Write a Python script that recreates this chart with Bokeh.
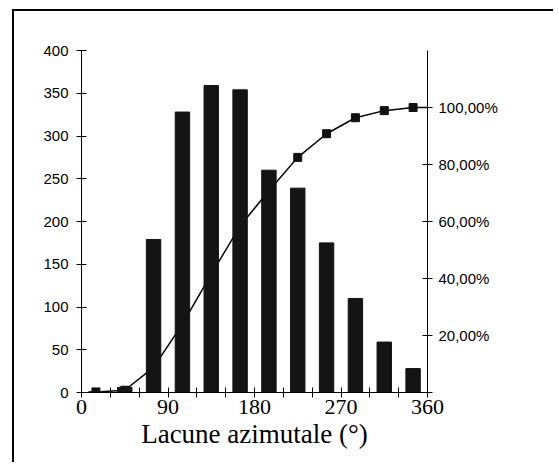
from bokeh.plotting import figure
from bokeh.models import Range1d, LinearAxis, FixedTicker, Div, Spacer
from bokeh.layouts import column, row
from bokeh.embed import file_html
from bokeh.resources import INLINE

# ---- data ----
bin_centers = [15, 45, 75, 105, 135, 165, 195, 225, 255, 285, 315, 345]
counts = [1, 6, 179, 328, 359, 354, 260, 239, 175, 110, 59, 28]

cum_x = [15, 45, 75, 105, 135, 165, 195, 225, 255, 285, 315, 345, 375]
cum_pct = [0.002, 0.008, 0.088, 0.240, 0.415, 0.584, 0.708, 0.825, 0.908, 0.964, 0.989, 1.0, 1.0]

x_major = [0, 90, 180, 270, 360]
x_minor = [30, 60, 120, 150, 210, 240, 300, 330]
y_left_ticks = [0, 50, 100, 150, 200, 250, 300, 350, 400]
pct_ticks = [0.2, 0.4, 0.6, 0.8, 1]
pct_labels = ["20,00%", "40,00%", "60,00%", "80,00%", "100,00%"]
x_title = "Lacune azimutale (°)"

# layout offsets of the outer chart frame (left/top edges drawn as thin Divs)
FX, FY, LW = 12, 9, 2
OFF_X, OFF_Y = FX + LW, FY + LW
W = 559 - OFF_X - 6
H = 468 - OFF_Y - 6
p = figure(width=W, height=H, output_backend="svg", toolbar_location=None,
           x_range=Range1d(0, 360), y_range=Range1d(0, 400),
           min_border_left=81 - OFF_X, min_border_right=(OFF_X + W) - 427,
           min_border_top=50 - OFF_Y, min_border_bottom=(OFF_Y + H) - 392,
           background_fill_color="white", border_fill_color="white", margin=0)
p.outline_line_color = None
p.grid.visible = False
p.extra_y_ranges = {"pct": Range1d(0, 1.2)}

# cumulative line (drawn first, behind the bars)
p.line(cum_x, cum_pct, y_range_name="pct", line_color="black", line_width=1.5)
p.scatter(cum_x, cum_pct, y_range_name="pct", marker="square", size=8,
          fill_color="#111111", line_color="#111111")

# bars
p.vbar(x=bin_centers, top=counts, width=15, bottom=0,
       fill_color="#141414", line_color="#141414")

# x axis
xa = p.xaxis[0]
xa.ticker = FixedTicker(ticks=x_major, minor_ticks=x_minor)
xa.major_tick_in = 5
xa.major_tick_out = 5
xa.minor_tick_in = 5
xa.minor_tick_out = 5
xa.major_label_standoff = 2
xa.major_label_text_font = "Liberation Serif"
xa.major_label_text_font_size = "22px"
xa.major_label_text_color = "black"
xa.axis_label = x_title
xa.axis_label_text_font = "Liberation Serif"
xa.axis_label_text_font_size = "27px"
xa.axis_label_text_font_style = "normal"
xa.axis_label_text_color = "black"
xa.axis_label_standoff = 2
xa.axis_line_color = "black"
xa.major_tick_line_color = "black"
xa.minor_tick_line_color = "black"

# left axis
ya = p.yaxis[0]
ya.ticker = FixedTicker(ticks=y_left_ticks)
ya.major_tick_in = 5
ya.major_tick_out = 5
ya.minor_tick_line_color = None
ya.major_label_standoff = 8
ya.major_label_text_font = "Liberation Sans"
ya.major_label_text_font_size = "15px"
ya.major_label_text_color = "black"
ya.axis_line_color = "black"
ya.major_tick_line_color = "black"

# right axis
ra = LinearAxis(y_range_name="pct",
                ticker=FixedTicker(ticks=pct_ticks, minor_ticks=[0]))
ra.major_label_overrides = dict(zip(pct_ticks, pct_labels))
ra.major_tick_in = 5
ra.major_tick_out = 5
ra.minor_tick_in = 5
ra.minor_tick_out = 5
ra.major_label_standoff = 6
ra.major_label_text_font = "Liberation Sans"
ra.major_label_text_font_size = "15px"
ra.major_label_text_color = "black"
ra.axis_line_color = "black"
ra.major_tick_line_color = "black"
ra.minor_tick_line_color = "black"
p.add_layout(ra, "right")

top_line = Div(text="", width=LW + W, height=LW, margin=0,
               styles={"background-color": "black"})
left_line = Div(text="", width=LW, height=H, margin=0,
                styles={"background-color": "black"})
inner = column(top_line, row(left_line, p, spacing=0, margin=0), spacing=0, margin=0)
layout = column(Spacer(width=10, height=FY, margin=0),
                row(Spacer(width=FX, height=10, margin=0), inner, spacing=0, margin=0),
                spacing=0, margin=0)

open("out.html", "w").write(file_html(layout, INLINE))
